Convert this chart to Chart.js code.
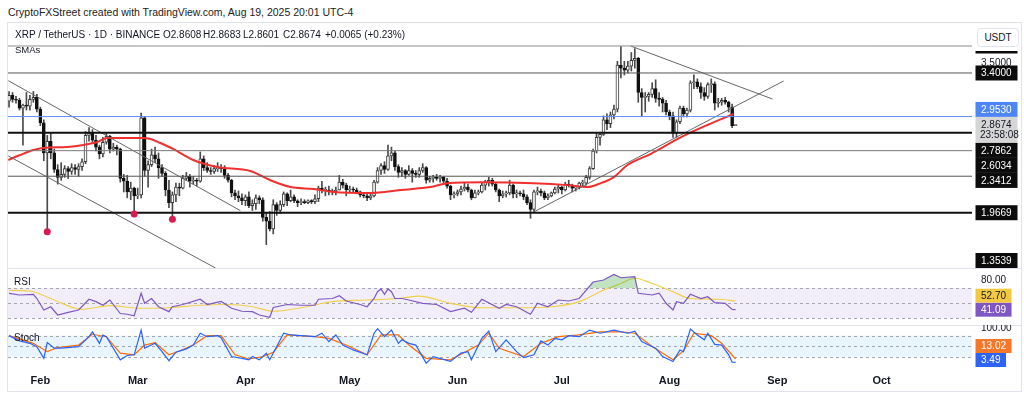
<!DOCTYPE html>
<html>
<head>
<meta charset="utf-8">
<title>XRP / TetherUS 1D</title>
<script src="https://cdn.jsdelivr.net/npm/chart.js@4.4.1/dist/chart.umd.min.js"></script>
<style>
  html, body { margin:0; padding:0; background:#fff; }
  body { width:1024px; height:394px; position:relative; overflow:hidden; font-family:"Liberation Sans", Arial, sans-serif; color:#131722; }
  .abs { position:absolute; white-space:nowrap; line-height:1; }
  canvas { position:absolute; left:0; }
  .sep { position:absolute; left:7px; width:1015px; height:1px; background:#e0e3eb; }
</style>
</head>
<body>
<div class="abs" style="left:8px;top:7px;font-size:10.5px;color:#222;">CryptoFXStreet created with TradingView.com, Aug 19, 2025 20:01 UTC-4</div>
<div class="abs" style="left:7px;top:22px;width:1015px;height:370px;border:1px solid #e0e3eb;box-sizing:border-box;"></div>
<div class="sep" style="top:268px"></div>
<div class="sep" style="top:325px"></div>

<canvas id="cPrice" width="1024" height="246" style="top:22px"></canvas>
<canvas id="cRsi" width="1024" height="57" style="top:268px"></canvas>
<canvas id="cStoch" width="1024" height="66" style="top:325px"></canvas>

<div class="abs" style="left:15px;top:30px;font-size:10px;">XRP / TetherUS · 1D · BINANCE</div>
<div class="abs" style="left:163px;top:30px;font-size:10px;">O2.8608</div>
<div class="abs" style="left:203px;top:30px;font-size:10px;">H2.8683</div>
<div class="abs" style="left:243px;top:30px;font-size:10px;">L2.8601</div>
<div class="abs" style="left:283px;top:30px;font-size:10px;">C2.8674</div>
<div class="abs" style="left:325px;top:30px;font-size:10px;">+0.0065 (+0.23%)</div>
<div class="abs" style="left:15px;top:45px;font-size:9.5px;">SMAs</div>
<div class="abs" style="left:14px;top:277px;font-size:10px;">RSI</div>
<div class="abs" style="left:14px;top:333px;font-size:10px;">Stoch</div>
<div class="abs" style="left:974px;top:23px;width:47px;height:27.5px;background:#fff;"></div>
<div class="abs" style="left:977px;top:28px;width:42px;height:19px;background:#fff;border:1px solid #e0e3eb;border-radius:4px;box-sizing:border-box;font-size:10px;text-align:center;line-height:17px;">USDT</div>

<script>
// ---------------- DATA ----------------
// day index: 0 = Feb 1, 2025 ; first candle = Jan 23, 2025
const firstDay = -9;
const firstOpen = 3.11;
const closes = [
  3.17,3.13,3.12,3.04,3.07,3.06,3.13,3.15,3.03,
  2.89,2.58,2.70,2.58,2.41,2.33,2.36,2.42,2.39,2.43,2.41,2.44,2.49,2.76,2.78,2.71,2.64,2.57,2.69,2.75,2.62,2.64,2.62,2.32,2.29,2.18,2.22,2.14,
  2.15,2.94,2.40,2.46,2.56,2.52,2.43,2.37,2.20,2.07,2.15,2.23,2.22,2.32,2.34,2.29,2.30,2.29,2.52,2.43,2.40,2.39,2.42,2.43,2.42,2.35,2.30,2.17,2.14,2.12,2.09,
  2.13,2.04,2.06,2.12,2.10,1.92,1.88,1.80,2.05,1.99,2.05,2.16,2.09,2.13,2.09,2.07,2.08,2.07,2.09,2.08,2.11,2.22,2.20,2.20,2.18,2.18,2.20,2.28,2.25,2.20,
  2.21,2.20,2.18,2.15,2.14,2.12,2.14,2.28,2.40,2.45,2.41,2.55,2.58,2.44,2.38,2.40,2.36,2.40,2.37,2.36,2.40,2.43,2.30,2.32,2.33,2.32,2.33,2.29,2.24,2.15,2.16,
  2.18,2.21,2.23,2.20,2.12,2.17,2.18,2.25,2.28,2.30,2.26,2.20,2.14,2.16,2.17,2.25,2.16,2.17,2.16,2.13,2.07,2.00,2.18,2.19,2.17,2.12,2.14,2.17,2.21,2.23,
  2.20,2.26,2.25,2.22,2.23,2.27,2.27,2.33,2.42,2.60,2.74,2.77,2.92,2.88,2.97,3.03,3.48,3.45,3.43,3.47,3.53,3.55,3.20,3.15,3.16,3.18,3.24,3.14,3.13,3.09,3.00,
  2.96,2.78,2.90,3.04,2.98,3.02,3.30,3.31,3.26,3.20,3.16,3.28,3.29,3.09,3.10,3.12,3.10,3.05,2.8608,2.8674
];
const highs = [
  3.21,3.20,3.16,3.14,3.08,3.20,3.17,3.21,3.18,
  3.05,2.92,2.76,2.78,2.62,2.46,2.48,2.45,2.44,2.47,2.46,2.47,2.52,2.80,2.84,2.82,2.76,2.66,2.74,2.79,2.76,2.68,2.66,2.63,2.36,2.35,2.28,2.23,
  2.22,2.99,2.95,2.50,2.62,2.64,2.58,2.46,2.39,2.30,2.18,2.27,2.27,2.35,2.38,2.36,2.34,2.32,2.59,2.55,2.48,2.43,2.45,2.48,2.46,2.45,2.37,2.31,2.20,2.19,2.16,
  2.15,2.18,2.10,2.15,2.14,2.12,1.97,1.98,2.10,2.07,2.09,2.18,2.17,2.20,2.15,2.10,2.11,2.10,2.10,2.10,2.15,2.24,2.29,2.23,2.24,2.21,2.23,2.35,2.31,2.27,
  2.24,2.23,2.22,2.19,2.17,2.16,2.17,2.30,2.43,2.47,2.49,2.66,2.64,2.60,2.46,2.43,2.41,2.45,2.42,2.40,2.43,2.47,2.44,2.34,2.35,2.36,2.35,2.34,2.32,2.25,2.18,
  2.20,2.24,2.28,2.26,2.21,2.20,2.20,2.27,2.30,2.33,2.32,2.28,2.21,2.19,2.19,2.30,2.26,2.20,2.19,2.20,2.15,2.10,2.20,2.23,2.21,2.19,2.16,2.18,2.23,2.25,
  2.24,2.28,2.30,2.26,2.24,2.28,2.30,2.35,2.44,2.62,2.78,2.79,2.96,2.98,3.00,3.07,3.52,3.67,3.52,3.52,3.61,3.65,3.56,3.24,3.20,3.20,3.30,3.33,3.20,3.15,3.12,
  3.02,3.00,2.92,3.06,3.06,3.04,3.32,3.38,3.34,3.30,3.25,3.30,3.34,3.31,3.14,3.14,3.15,3.11,3.08,2.8683
];
const lows = [
  3.05,3.10,3.09,3.02,2.66,3.02,3.02,3.10,3.00,
  2.86,2.50,1.77,2.52,2.38,2.26,2.30,2.33,2.32,2.36,2.36,2.34,2.40,2.47,2.70,2.68,2.60,2.52,2.54,2.67,2.58,2.60,2.56,2.28,2.18,2.12,2.10,1.96,
  2.11,2.12,2.34,2.23,2.44,2.48,2.32,2.34,2.14,2.02,1.90,2.08,2.14,2.21,2.30,2.23,2.26,2.24,2.28,2.40,2.38,2.36,2.37,2.39,2.38,2.32,2.28,2.13,2.10,2.08,2.05,
  2.04,2.02,1.99,2.00,2.06,1.88,1.64,1.78,1.75,1.94,1.96,2.03,2.04,2.08,2.07,2.03,2.05,2.06,2.06,2.06,2.06,2.08,2.17,2.14,2.15,2.15,2.15,2.20,2.22,2.14,
  2.18,2.18,2.16,2.13,2.12,2.09,2.10,2.13,2.27,2.36,2.37,2.40,2.50,2.40,2.33,2.34,2.32,2.35,2.28,2.33,2.33,2.38,2.27,2.28,2.28,2.30,2.28,2.26,2.22,2.10,2.12,
  2.14,2.15,2.19,2.18,2.10,2.12,2.15,2.17,2.20,2.24,2.24,2.18,2.08,2.12,2.13,2.15,2.12,2.12,2.14,2.10,2.05,1.91,1.98,2.15,2.14,2.10,2.10,2.13,2.16,2.17,
  2.16,2.19,2.23,2.18,2.19,2.21,2.24,2.25,2.31,2.41,2.58,2.66,2.76,2.82,2.84,2.93,3.00,3.35,3.38,3.40,3.42,3.45,3.10,2.96,3.00,3.11,3.15,3.10,3.06,3.00,2.97,
  2.92,2.74,2.74,2.88,2.95,2.95,3.00,3.24,3.24,3.14,3.12,3.14,3.20,3.02,3.05,3.07,3.08,3.00,2.84,2.8601
];
// SMA (red): [day, price]
const smaPoints = [[-9.2,2.508],[-5.8,2.559],[-2,2.61],[0.9,2.631],[7.8,2.641],[12.4,2.662],[16.4,2.692],[19.3,2.733],[29.6,2.733],[31.7,2.723],[34.5,2.682],[38.3,2.62],[44,2.508],[50.9,2.436],[60.4,2.395],[66.2,2.30],[72,2.23],[78.6,2.21],[84.3,2.18],[95,2.17],[103.6,2.20],[112.2,2.23],[117.1,2.27],[127.5,2.28],[141.9,2.27],[151.7,2.25],[157.4,2.23],[161.2,2.27],[164.9,2.33],[168.9,2.456],[175.5,2.569],[185,2.754],[191.9,2.867],[199.4,2.979]];
// horizontal levels and trend lines
const levels = [3.677, 3.4, 2.953, 2.7862, 2.6034, 2.3412, 1.9669];
const trendLines = [
  [[-9.2,3.321],[57.55,1.988]],
  [[-9.2,2.549],[50.4,1.40]],
  [[141.9,1.974],[213.8,3.318]],
  [[169.8,3.677],[210.6,3.133]]
];
const markerPoints = [[2,1.773],[27,1.954],[38,1.90]];
// price scale labels
const priceLabelValues = [3.677, 3.4, 2.953, 2.8674, 2.7862, 2.6034, 2.3412, 1.9669, 1.3539];
const priceLabelTexts = ['3.6770','3.4000','2.9530','2.8674','2.7862','2.6034','2.3412','1.9669','1.3539'];
const countdownText = '23:58:08';
const priceTicks = [3.5];
// RSI
const rsiPoints = [[-9,62.9],[-6,60.7],[-2,61.6],[-1,56],[1,40.7],[3,45],[5,34],[8,37.6],[11,40.7],[14,55],[16,51.8],[18,47],[20,54],[23,36],[25,35],[27,33],[29,63],[30,49.6],[32,56],[34,45],[37,38.5],[38,45],[41,48],[46,55],[48,48],[52,52],[55,43],[58,39],[61,38.5],[63,34],[66,31],[67,44],[71,48],[75,47],[79,47],[80,55],[84,56],[86,59.7],[88,52.7],[92,48],[94,45],[96,56],[97,65],[98,68.7],[99,61.6],[100,68.7],[101,65],[102,56],[104,56],[106,54],[110,49.6],[114,48],[118,38.5],[122,43],[124,37.6],[127,55],[132,43],[134,48],[137,45],[141,35],[143,49.6],[146,45],[149,54],[152,52.7],[155,56],[159,78],[162,80.7],[165,88],[167,83.7],[171,85],[172,63],[176,60.7],[178,63],[180,49.6],[182,40.7],[183,51.8],[185,49.6],[187,61.6],[190,56],[192,58.4],[194,50.4],[197,49.6],[199,41.5],[200,41.09]];
const rsiMaPoints = [[-9,67],[-3,66],[3,56],[12,41.6],[20,46.4],[29,43],[37,43.7],[46,47],[54,48],[61,45],[67,39],[75,43.7],[84,51.8],[94,54],[103,56],[109,59.3],[118,49.6],[127,43.7],[137,43.7],[147,45],[155,51.8],[161,65],[167,76],[171,83],[176,76],[182,65],[187,56],[195,55],[200,52.7]];
const rsiLevels = [70, 50, 30];
const rsiTicks = [80];
// Stochastic
const stochKPoints = [[-9,80],[-6,65],[-3,58],[-1,48.6],[1,15],[2,60],[4,44],[6,44],[11,48.6],[14,77],[15,91],[17,58],[18,82],[19,77],[21,44],[23,10.6],[25,23],[27,25],[29,96],[30,44],[33,58],[35,34],[37,8],[39,32.5],[42,42],[44,53],[46,87],[48,77],[51,80],[52,74],[55,20],[58,15],[60,10.6],[61,20],[63,10.6],[65,29.7],[66,10.6],[68,48.6],[70,87],[72,82],[79,77],[81,87],[83,63],[85,82],[87,53],[90,39],[94,25],[96,87],[97,100],[99,77],[101,96],[103,58],[104,68],[106,58],[108,53],[111,1],[113,20],[118,6],[121,30],[123,34],[124,10.6],[127,72],[129,93],[131,34],[134,68],[137,34],[139,17],[142,25],[144,65],[146,53],[148,72],[150,68],[152,80],[155,77],[158,96],[161,87],[165,96],[169,87],[171,93],[173,63],[175,53],[177,44],[179,20],[182,6],[184,39],[185,34],[187,99],[189,82],[191,68],[192,87],[194,55],[196,53],[198,25],[199,4],[200,3.49]];
const stochDPoints = [[-9,80],[-2,58],[2,34],[5,46],[11,53],[15,84],[19,77],[23,29.7],[27,25],[30,53],[33,60],[37,25],[40,36],[44,53],[48,80],[52,80],[56,25],[60,13],[64,20],[67,32.5],[71,82],[79,77],[83,72],[88,53],[94,25],[98,82],[103,82],[106,53],[111,15],[118,10.6],[126,53],[129,87],[132,44],[139,20],[144,58],[149,77],[155,82],[161,91],[167,91],[171,87],[176,48.6],[182,10.6],[185,36],[188,87],[193,80],[196,58],[200,13.02]];
const stochLevels = [80, 50, 20];
const stochTicks = [100];
// time axis
const monthTicks = [0, 28, 59, 89, 120, 150, 181, 212, 242];
const monthNames = ['Feb','Mar','Apr','May','Jun','Jul','Aug','Sep','Oct'];

// ---------------- STYLE / LAYOUT ----------------
const X_MIN = -9.3, X_MAX = 268;
const FONT = '"Liberation Sans", Arial, sans-serif';
const PAD = {left:8, right:52, top:0, bottom:0};
const LABEL_BOX_X = 975.5, LABEL_TEXT_X = 981, PRICE_BOX_W = 42;
const levelStyle = [
  {c:'#8c8c8c', w:1}, {c:'#555555', w:1}, {c:'#5b8ff9', w:1}, {c:'#111111', w:2},
  {c:'#7a7a7a', w:1}, {c:'#555555', w:1}, {c:'#111111', w:2}
];
const priceLabelStyle = i => {
  if (i === 3) return {bg:'#d6d6d6', fg:'#131722'};
  if (i === 2) return {bg:'#4f86f7', fg:'#ffffff'};
  return {bg:'#0c0c0c', fg:'#ffffff'};
};
const toXY = arr => arr.map(p => ({x:p[0], y:p[1]}));

const candles = closes.map((c, i) => ({
  d: firstDay + i, o: i === 0 ? firstOpen : closes[i-1], h: highs[i], l: lows[i], c
}));

function placeLabels(items, anchorIdx, top, bottom) {
  const t = it => it.cy - it.up, b = it => it.cy + it.down;
  const a = items[anchorIdx];
  if (b(a) > bottom) a.cy -= b(a) - bottom;
  if (t(a) < top) a.cy += top - t(a);
  let lim = t(a);
  items.filter(it => it !== a && it.v > a.v).sort((p,q) => p.v - q.v).forEach(it => {
    if (b(it) > lim) it.cy -= b(it) - lim;
    lim = t(it);
  });
  lim = b(a);
  items.filter(it => it !== a && it.v < a.v).sort((p,q) => q.v - p.v).forEach(it => {
    if (t(it) < lim) it.cy += lim - t(it);
    lim = b(it);
  });
  items.forEach(it => {
    if (b(it) > bottom) it.cy -= b(it) - bottom;
    if (t(it) < top) it.cy += top - t(it);
  });
}

function bandPlugin(levelsArr, bandColor) {
  return {
    id: 'band',
    beforeDatasetsDraw(chart) {
      const {ctx, chartArea: a, scales: {y}} = chart;
      ctx.save();
      const yt = y.getPixelForValue(levelsArr[0]), yb = y.getPixelForValue(levelsArr[levelsArr.length-1]);
      ctx.fillStyle = bandColor;
      ctx.fillRect(a.left, yt, a.right - a.left, yb - yt);
      ctx.strokeStyle = '#a3a6ae';
      ctx.lineWidth = 1;
      ctx.setLineDash([3, 3]);
      levelsArr.forEach(v => {
        const py = Math.round(y.getPixelForValue(v)) + 0.5;
        ctx.beginPath(); ctx.moveTo(a.left, py); ctx.lineTo(a.right, py); ctx.stroke();
      });
      ctx.restore();
    }
  };
}

function indicatorLabelPlugin(ticks, items) {
  return {
    id: 'indLabels',
    afterDraw(chart) {
      const {ctx, chartArea: a, scales: {y}} = chart;
      ctx.save();
      ctx.font = '10px ' + FONT;
      ctx.textBaseline = 'middle';
      ctx.fillStyle = '#131722';
      ticks.forEach(v => ctx.fillText(v.toFixed(2), LABEL_TEXT_X, y.getPixelForValue(v)));
      const its = items.map(it => Object.assign({}, it, {cy: y.getPixelForValue(it.v), up: 7, down: 7}));
      placeLabels(its, 0, a.top, a.bottom);
      its.forEach(it => {
        const w = ctx.measureText(it.text).width + 11;
        ctx.fillStyle = it.bg;
        ctx.fillRect(LABEL_BOX_X, it.cy - 7, w, 14);
        ctx.fillStyle = it.fg;
        ctx.fillText(it.text, LABEL_TEXT_X, it.cy + 0.5);
      });
      ctx.restore();
    }
  };
}

const priceLabelPlugin = {
  id: 'priceLabels',
  afterDraw(chart) {
    const {ctx, chartArea: a, scales: {y}} = chart;
    ctx.save();
    ctx.font = '10px ' + FONT;
    ctx.textBaseline = 'middle';
    ctx.fillStyle = '#131722';
    priceTicks.forEach(v => ctx.fillText(v.toFixed(4), LABEL_TEXT_X, y.getPixelForValue(v)));
    const its = priceLabelValues.map((v, i) => ({
      v, i, text: priceLabelTexts[i], cy: y.getPixelForValue(v),
      up: i === 3 ? 8 : 7.5, down: i === 3 ? 18 : 7.5
    }));
    placeLabels(its, 3, a.top, a.bottom);
    its.forEach(it => {
      const st = priceLabelStyle(it.i);
      ctx.fillStyle = st.bg;
      ctx.fillRect(LABEL_BOX_X, it.cy - it.up, PRICE_BOX_W, it.up + it.down);
      ctx.fillStyle = st.fg;
      ctx.fillText(it.text, LABEL_TEXT_X, it.cy + 0.5);
      if (it.i === 3) ctx.fillText(countdownText, LABEL_TEXT_X - 1, it.cy + 10);
    });
    ctx.restore();
  }
};

const baseOpts = (yMin, yMax, xShow) => ({
  responsive: false, animation: false, devicePixelRatio: 1, events: [],
  layout: {autoPadding: false, padding: PAD},
  plugins: {legend: {display: false}, tooltip: {enabled: false}},
  scales: {
    x: xShow ? {
      type: 'linear', min: X_MIN, max: X_MAX, offset: false, position: 'bottom',
      grid: {display: false, drawTicks: false}, border: {display: false},
      afterBuildTicks(s) { s.ticks = monthTicks.map(v => ({value: v})); },
      afterFit(s) { s.height = 24; },
      ticks: {
        autoSkip: false, maxRotation: 0, padding: 7, color: '#131722',
        font: {family: FONT, size: 11, weight: 'bold'},
        callback(v) { const i = monthTicks.indexOf(v); return i >= 0 ? monthNames[i] : ''; }
      }
    } : {type: 'linear', min: X_MIN, max: X_MAX, offset: false, display: false},
    y: {type: 'linear', min: yMin, max: yMax, display: false}
  }
});

// ---------------- PRICE CHART ----------------
const priceDatasets = [];
priceDatasets.push({
  type: 'line', order: 0, showLine: false,
  data: toXY(markerPoints), pointRadius: 3.5, pointBackgroundColor: '#d81b50', pointBorderWidth: 0
});
levels.forEach((v, i) => priceDatasets.push({
  type: 'line', order: 1, data: [{x: X_MIN, y: v}, {x: X_MAX, y: v}],
  borderColor: levelStyle[i].c, borderWidth: levelStyle[i].w, pointRadius: 0
}));
trendLines.forEach(t => priceDatasets.push({
  type: 'line', order: 1, data: toXY(t), borderColor: '#666666', borderWidth: 1, pointRadius: 0
}));
priceDatasets.push({
  type: 'line', order: 2, data: toXY(smaPoints), borderColor: '#f0302f', borderWidth: 2,
  pointRadius: 0, cubicInterpolationMode: 'monotone'
});
priceDatasets.push({
  type: 'bar', order: 3, grouped: false, barThickness: 3, minBarLength: 1,
  data: candles.map(k => ({x: k.d, y: [k.o, k.c]})),
  backgroundColor: candles.map(k => k.c >= k.o ? '#ffffff' : '#111111'),
  borderColor: candles.map(k => k.c >= k.o ? '#3a3a3a' : '#111111'),
  borderWidth: 1, borderSkipped: false
});
priceDatasets.push({
  type: 'bar', order: 4, grouped: false, barThickness: 1,
  data: candles.map(k => ({x: k.d, y: [Math.min(k.l, k.o, k.c), Math.max(k.h, k.o, k.c)]})),
  backgroundColor: '#4a4a4a', borderWidth: 0
});
new Chart(document.getElementById('cPrice'), {
  type: 'bar',
  data: {datasets: priceDatasets},
  options: baseOpts(1.4, 3.923, false),
  plugins: [priceLabelPlugin]
});

// ---------------- RSI ----------------
new Chart(document.getElementById('cRsi'), {
  type: 'line',
  data: {datasets: [
    {data: toXY(rsiPoints), borderColor: '#7e57c2', borderWidth: 1.2, pointRadius: 0, tension: 0,
     fill: {target: {value: 70}, above: 'rgba(76,175,80,0.35)', below: 'rgba(0,0,0,0)'}},
    {data: toXY(rsiMaPoints), borderColor: '#f2cf4a', borderWidth: 1.2, pointRadius: 0, cubicInterpolationMode: 'monotone'}
  ]},
  options: baseOpts(20.67, 96.67, false),
  plugins: [bandPlugin(rsiLevels, 'rgba(126,87,194,0.10)'),
            indicatorLabelPlugin(rsiTicks, [
              {v: 41.09, text: '41.09', bg: '#7e57c2', fg: '#ffffff'},
              {v: 52.70, text: '52.70', bg: '#f3c843', fg: '#131722'}
            ])]
});

// ---------------- STOCH ----------------
new Chart(document.getElementById('cStoch'), {
  type: 'line',
  data: {datasets: [
    {data: toXY(stochKPoints), borderColor: '#2962ff', borderWidth: 1.2, pointRadius: 0, tension: 0},
    {data: toXY(stochDPoints), borderColor: '#ff6d00', borderWidth: 1.2, pointRadius: 0, tension: 0}
  ]},
  options: baseOpts(-10, 110.6, true),
  plugins: [bandPlugin(stochLevels, 'rgba(33,150,243,0.10)'),
            indicatorLabelPlugin(stochTicks, [
              {v: 3.49, text: '3.49', bg: '#2f63f5', fg: '#ffffff'},
              {v: 13.02, text: '13.02', bg: '#f5782a', fg: '#ffffff'}
            ])]
});
</script>
</body>
</html>
